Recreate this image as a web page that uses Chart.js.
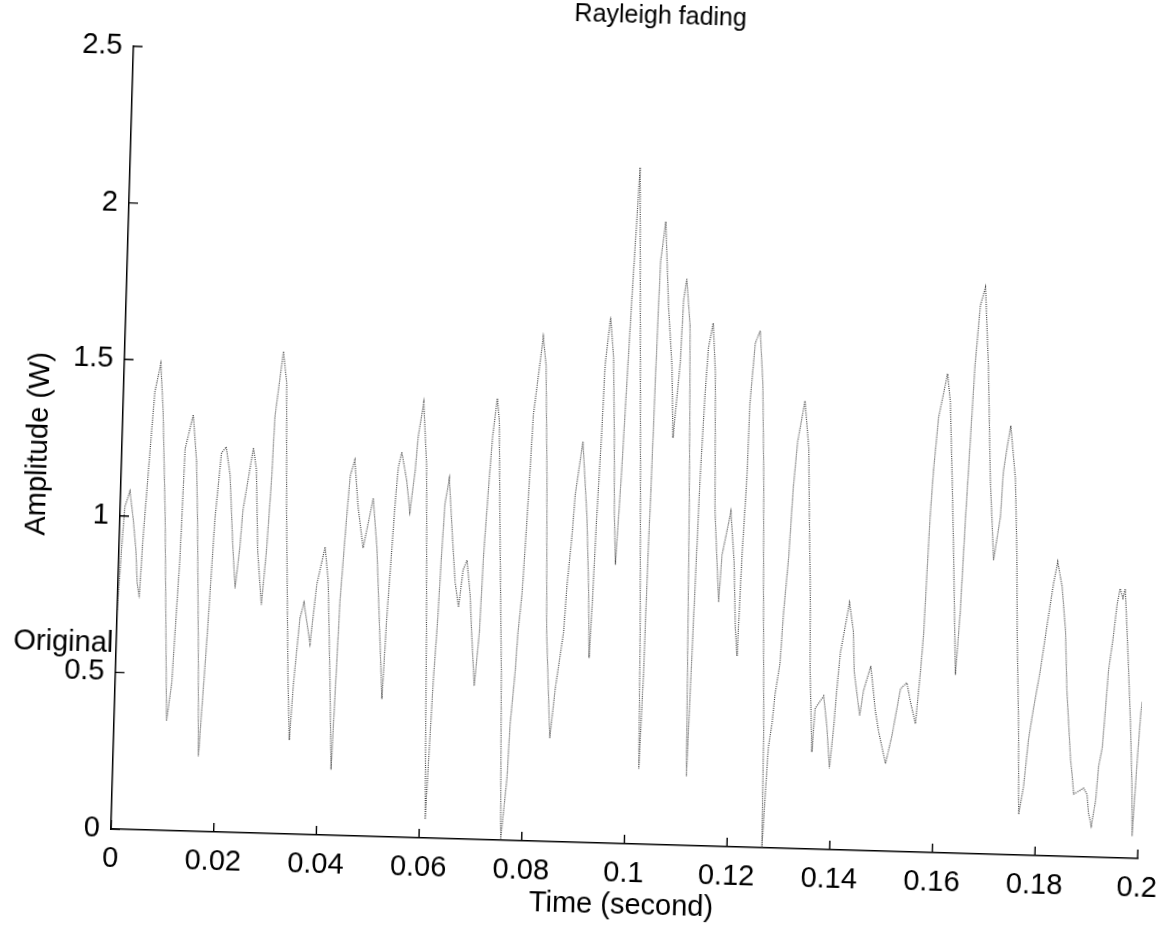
<!DOCTYPE html>
<html><head><meta charset="utf-8">
<script src="https://cdn.jsdelivr.net/npm/chart.js@4.4.1/dist/chart.umd.min.js"></script>
<style>
html,body{margin:0;padding:0;background:#fff;overflow:hidden;width:1163px;height:931px;}
#wrap{position:absolute;left:-40px;top:-40px;width:1243px;height:1011px;transform:rotate(1.65deg);transform-origin:151px 869px;}
canvas{display:block;}
</style></head><body>
<div id="wrap"><canvas id="c" width="1243" height="1011"></canvas></div>
<script>
const times = [
0.0000,0.0005,0.0009,0.0018,0.0026,0.0033,0.0037,0.0042,0.0046,0.0057,0.0061,0.0071,0.0078,0.0088,0.0102,0.0110,0.0119,0.0123,0.0137,0.0146,
0.0151,0.0160,0.0166,0.0176,0.0185,0.0194,0.0203,0.0212,0.0221,0.0228,0.0235,0.0239,0.0256,0.0263,0.0270,0.0280,0.0287,0.0293,0.0296,0.0304,
0.0309,0.0317,0.0324,0.0336,0.0342,0.0347,0.0356,0.0363,0.0377,0.0387,0.0401,0.0409,0.0418,0.0425,0.0430,0.0433,0.0441,0.0446,0.0454,0.0463,
0.0475,0.0492,0.0502,0.0514,0.0520,0.0525,0.0531,0.0535,0.0539,0.0545,0.0556,0.0564,0.0572,0.0576,0.0585,0.0594,0.0598,0.0603,0.0607,0.0611,
0.0619,0.0624,0.0628,0.0632,0.0639,0.0649,0.0656,0.0664,0.0671,0.0678,0.0686,0.0691,0.0699,0.0706,0.0710,0.0716,0.0721,0.0728,0.0733,0.0740,
0.0751,0.0759,0.0768,0.0771,0.0778,0.0781,0.0787,0.0791,0.0795,0.0799,0.0814,0.0821,0.0829,0.0837,0.0849,0.0857,0.0870,0.0874,0.0881,0.0885,
0.0897,0.0909,0.0916,0.0921,0.0924,0.0928,0.0933,0.0936,0.0944,0.0952,0.0958,0.0962,0.0967,0.0974,0.0981,0.0985,0.0993,0.1011,0.1019,0.1024,
0.1028,0.1030,0.1032,0.1034,0.1036,0.1038,0.1046,0.1056,0.1066,0.1072,0.1082,0.1085,0.1090,0.1099,0.1103,0.1108,0.1112,0.1117,0.1127,0.1132,
0.1136,0.1144,0.1151,0.1158,0.1170,0.1174,0.1189,0.1198,0.1204,0.1209,0.1213,0.1218,0.1220,0.1227,0.1236,0.1244,0.1251,0.1257,0.1265,0.1268,
0.1275,0.1281,0.1285,0.1293,0.1297,0.1304,0.1309,0.1315,0.1327,0.1337,0.1342,0.1348,0.1352,0.1360,0.1364,0.1380,0.1388,0.1395,0.1401,0.1405,
0.1410,0.1425,0.1434,0.1438,0.1451,0.1457,0.1470,0.1481,0.1489,0.1504,0.1515,0.1529,0.1541,0.1549,0.1560,0.1567,0.1571,0.1574,0.1577,0.1581,
0.1588,0.1603,0.1610,0.1618,0.1625,0.1635,0.1641,0.1646,0.1651,0.1656,0.1663,0.1672,0.1682,0.1692,0.1703,0.1714,0.1717,0.1723,0.1729,0.1741,
0.1748,0.1753,0.1761,0.1766,0.1774,0.1781,0.1789,0.1800,0.1811,0.1821,0.1828,0.1838,0.1847,0.1853,0.1859,0.1864,0.1868,0.1872,0.1882,0.1891,
0.1898,0.1902,0.1908,0.1915,0.1919,0.1925,0.1929,0.1933,0.1940,0.1946,0.1951,0.1957,0.1961,0.1967,0.1972,0.1979,0.1985,0.1988,0.1994,0.1998,
0.2000];
const amps = [
0.70,0.90,1.03,1.08,0.99,0.89,0.79,0.74,0.93,1.28,1.40,1.49,1.34,1.00,0.35,0.47,0.87,1.22,1.33,1.18,
1.00,0.58,0.24,0.61,1.00,1.21,1.23,1.14,0.92,0.78,0.91,1.03,1.23,1.16,0.90,0.73,0.90,1.13,1.33,1.46,
1.54,1.44,1.03,0.50,0.30,0.48,0.69,0.74,0.61,0.80,0.92,0.81,0.49,0.21,0.54,0.75,1.01,1.15,1.20,1.05,
0.92,1.08,0.92,0.60,0.44,0.70,0.92,1.07,1.18,1.23,1.14,1.04,1.17,1.28,1.39,1.19,0.97,0.66,0.35,0.06,
0.50,0.69,0.90,1.07,1.15,0.95,0.82,0.74,0.86,0.89,0.78,0.66,0.49,0.66,0.91,1.13,1.29,1.41,1.34,1.01,
0.54,0.00,0.20,0.37,0.54,0.66,0.79,0.96,1.15,1.36,1.61,1.52,1.16,0.67,0.33,0.49,0.67,0.82,0.98,1.11,
1.28,1.04,0.82,0.59,0.75,1.04,1.31,1.53,1.68,1.55,1.29,1.06,0.89,1.19,1.57,1.78,2.16,1.17,0.68,0.24,
0.55,0.92,1.13,1.41,1.66,1.86,1.99,1.72,1.53,1.30,1.54,1.74,1.81,1.66,1.41,1.05,0.68,0.22,1.17,1.44,
1.59,1.67,1.51,1.07,0.78,0.93,1.07,0.91,0.70,0.61,0.93,1.17,1.42,1.61,1.65,1.48,1.18,0.81,0.38,0.00,
0.32,0.40,0.49,0.59,0.75,0.93,1.15,1.30,1.43,1.28,1.06,0.82,0.57,0.31,0.45,0.49,0.39,0.26,0.39,0.51,
0.63,0.79,0.70,0.57,0.43,0.51,0.59,0.45,0.38,0.28,0.37,0.52,0.54,0.48,0.41,0.58,0.70,0.89,1.07,1.22,
1.39,1.53,1.44,1.19,0.95,0.57,0.77,1.07,1.32,1.56,1.75,1.81,1.56,1.20,0.94,1.08,1.22,1.30,1.37,1.20,
0.96,0.71,0.41,0.13,0.22,0.37,0.47,0.59,0.74,0.87,0.94,0.86,0.72,0.53,0.41,0.31,0.26,0.20,0.21,0.22,
0.20,0.14,0.10,0.18,0.29,0.35,0.47,0.60,0.70,0.81,0.86,0.83,0.86,0.72,0.60,0.42,0.23,0.07,0.32,0.46,
0.50];
const xTickValues = [0,0.02,0.04,0.06,0.08,0.1,0.12,0.14,0.16,0.18,0.2];
const xTickLabels = ['0','0.02','0.04','0.06','0.08','0.1','0.12','0.14','0.16','0.18','0.2'];
const yTickValues = [0,0.5,1,1.5,2,2.5];
const yTickLabels = ['0','0.5','1','1.5','2','2.5'];
const titleText = 'Rayleigh fading';
const xTitle = 'Time (second)';
const yTitle = 'Amplitude (W)';
const extraLabel = 'Original';

const FONT = '"Liberation Sans", Arial, Helvetica, sans-serif';
Chart.defaults.font.family = FONT;
Chart.defaults.color = '#000';

function labelFor(values, labels, v){
  const i = values.findIndex(t => Math.abs(t - v) < 1e-9);
  return i >= 0 ? labels[i] : '';
}

const bgPlugin = {
  id: 'bg',
  beforeDraw(chart){
    const c = chart.ctx;
    c.save(); c.fillStyle = '#fff'; c.fillRect(0,0,chart.width,chart.height); c.restore();
  }
};

const extrasPlugin = {
  id: 'extras',
  afterDraw(chart){
    const c = chart.ctx, a = chart.chartArea;
    const xs = chart.scales.x, ys = chart.scales.y;
    c.save();
    c.strokeStyle = '#000'; c.lineWidth = 1.4;
    c.beginPath();
    xTickValues.forEach(v => { const p = xs.getPixelForValue(v); c.moveTo(p, a.bottom); c.lineTo(p, a.bottom - 9); });
    yTickValues.forEach(v => { const p = ys.getPixelForValue(v); c.moveTo(a.left, p); c.lineTo(a.left + 9, p); });
    c.stroke();
    c.fillStyle = '#000';
    c.textAlign = 'center'; c.textBaseline = 'middle';
    c.font = '25px ' + FONT;
    c.fillText(titleText, a.left + 526, a.top - 45);
    c.font = '29px ' + FONT;
    c.fillText(xTitle, a.left + 512, a.bottom + 62);
    c.fillText(extraLabel, a.left - 53, a.bottom - 185);
    c.translate(a.left - 83, a.bottom - 383);
    c.rotate(-Math.PI / 2);
    c.fillText(yTitle, 0, 0);
    c.restore();
  }
};

new Chart(document.getElementById('c'), {
  type: 'line',
  data: {
    datasets: [{
      data: times.map((t, i) => ({x: t, y: amps[i]})),
      borderColor: '#3c3c3c',
      borderWidth: 1.2,
      borderDash: [1, 1.2],
      pointRadius: 0,
      tension: 0,
      fill: false
    }]
  },
  options: {
    responsive: false,
    animation: false,
    devicePixelRatio: 1,
    layout: { padding: { left: 0, right: 65, top: 86, bottom: 0 } },
    plugins: { legend: { display: false }, tooltip: { enabled: false }, title: { display: false } },
    scales: {
      x: {
        type: 'linear', min: 0, max: 0.2,
        afterBuildTicks: s => { s.ticks = xTickValues.map(v => ({value: v})); },
        afterFit: s => { s.height = 142; },
        grid: { display: false, drawTicks: false },
        border: { display: true, color: '#000', width: 1.5 },
        ticks: { padding: 13, maxRotation: 0, autoSkip: false, font: { size: 29 }, color: '#000',
                 callback: v => labelFor(xTickValues, xTickLabels, v) }
      },
      y: {
        type: 'linear', min: 0, max: 2.5,
        afterBuildTicks: s => { s.ticks = yTickValues.map(v => ({value: v})); },
        afterFit: s => { s.width = 151; },
        grid: { display: false, drawTicks: false },
        border: { display: true, color: '#000', width: 1.5 },
        ticks: { padding: 11, font: { size: 29 }, color: '#000',
                 callback: v => labelFor(yTickValues, yTickLabels, v) }
      }
    }
  },
  plugins: [bgPlugin, extrasPlugin]
});
</script>
</body></html>
